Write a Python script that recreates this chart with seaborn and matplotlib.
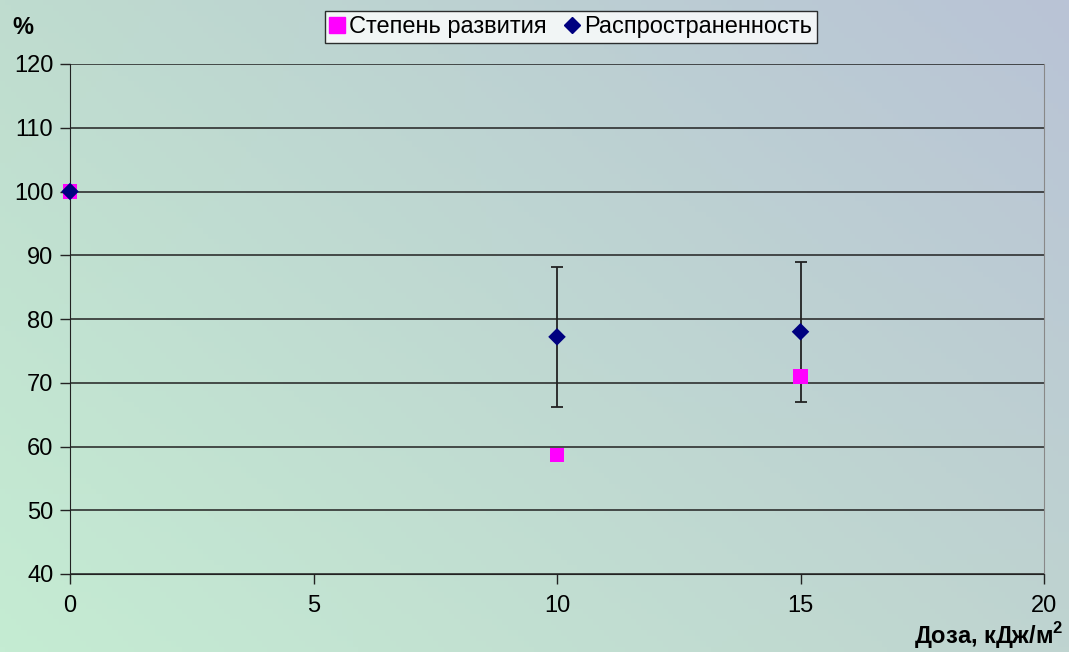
import numpy as np
import pandas as pd
import matplotlib
matplotlib.use("Agg")
import matplotlib.pyplot as plt
from matplotlib.lines import Line2D
import seaborn as sns

# Data
dose = [0, 10, 15]
stepen = [100, 58.7, 71.0]            # Степень развития
rasprostr = [100, 77.2, 78.0]         # Распространенность
rasprostr_err = [0, 11.0, 11.0]

sns.set_style("white")
plt.rcParams['font.family'] = ['Liberation Sans', 'DejaVu Sans']
plt.rcParams['text.color'] = 'black'
plt.rcParams['xtick.color'] = 'black'
plt.rcParams['ytick.color'] = 'black'
plt.rcParams['mathtext.fontset'] = 'custom'
plt.rcParams['mathtext.bf'] = 'Liberation Sans:bold'
plt.rcParams['mathtext.rm'] = 'Liberation Sans'

fig = plt.figure(figsize=(10.69, 6.52), dpi=100)

# Background gradient (corner colours)
tl = np.array([191, 220, 207]) / 255
tr = np.array([185, 195, 214]) / 255
bl = np.array([197, 236, 211]) / 255
br = np.array([191, 212, 208]) / 255
u = np.linspace(0, 1, 200)[None, :, None]
v = np.linspace(0, 1, 120)[:, None, None]
grad = (1 - v) * ((1 - u) * tl + u * tr) + v * ((1 - u) * bl + u * br)
bg = fig.add_axes([0, 0, 1, 1], zorder=-10)
bg.imshow(grad, aspect='auto', extent=[0, 1, 0, 1])
bg.axis('off')

W, H = 1069, 652
ax = fig.add_axes([70 / W, (H - 574) / H, (1044 - 70) / W, (574 - 64) / H])
ax.patch.set_alpha(0)

df_s = pd.DataFrame({'dose': dose, 'val': stepen})
df_r = pd.DataFrame({'dose': dose, 'val': rasprostr})

ax.errorbar(dose, rasprostr, yerr=rasprostr_err, fmt='none', ecolor='#222222',
            elinewidth=1.3, capsize=4, capthick=1.3, zorder=2)
sns.scatterplot(data=df_s, x='dose', y='val', ax=ax, marker='s', s=110,
                color='#ff00ff', edgecolor='none', zorder=3, clip_on=False)
sns.scatterplot(data=df_r, x='dose', y='val', ax=ax, marker='D', s=80,
                color='#000080', edgecolor='none', zorder=4, clip_on=False)

ax.set_xlim(0, 20)
ax.set_ylim(40, 120)
ax.set_xticks([0, 5, 10, 15, 20])
ax.set_yticks(range(40, 121, 10))
ax.yaxis.grid(True, color='#222222', linewidth=1.1)
ax.set_axisbelow(True)
ax.set_xlabel('')
ax.set_ylabel('')

ax.spines['top'].set_visible(False)
ax.spines['right'].set_color('#888888')
ax.spines['left'].set_color('#222222')
ax.spines['bottom'].set_color('#222222')
ax.tick_params(axis='both', which='major', labelsize=17, length=7, width=1,
               direction='out', color='#222222', left=True, bottom=True, pad=5)
ax.tick_params(axis='x', pad=8)

fig.text(12 / W, 1 - 27 / H, '%', fontsize=17, fontweight='bold', va='center', ha='left')
fig.text(1064 / W, 1 - 644 / H, r'Доза, кДж/м$^{\mathbf{2}}$', fontsize=17,
         fontweight='bold', va='baseline', ha='right')

handles = [
    Line2D([], [], marker='s', linestyle='none', color='#ff00ff', markersize=11),
    Line2D([], [], marker='D', linestyle='none', color='#000080', markersize=8),
]
leg = fig.legend(handles, ['Степень развития', 'Распространенность'],
                 loc='center', bbox_to_anchor=(571 / W, 1 - 27 / H), ncol=2,
                 frameon=True, fancybox=False, fontsize=17, handlelength=0.6,
                 handletextpad=0.2, columnspacing=0.8, borderpad=0.2,
                 borderaxespad=0)
leg.get_frame().set_edgecolor('black')
leg.get_frame().set_facecolor('white')
leg.get_frame().set_linewidth(1)

fig.savefig('out.png', dpi=100)
